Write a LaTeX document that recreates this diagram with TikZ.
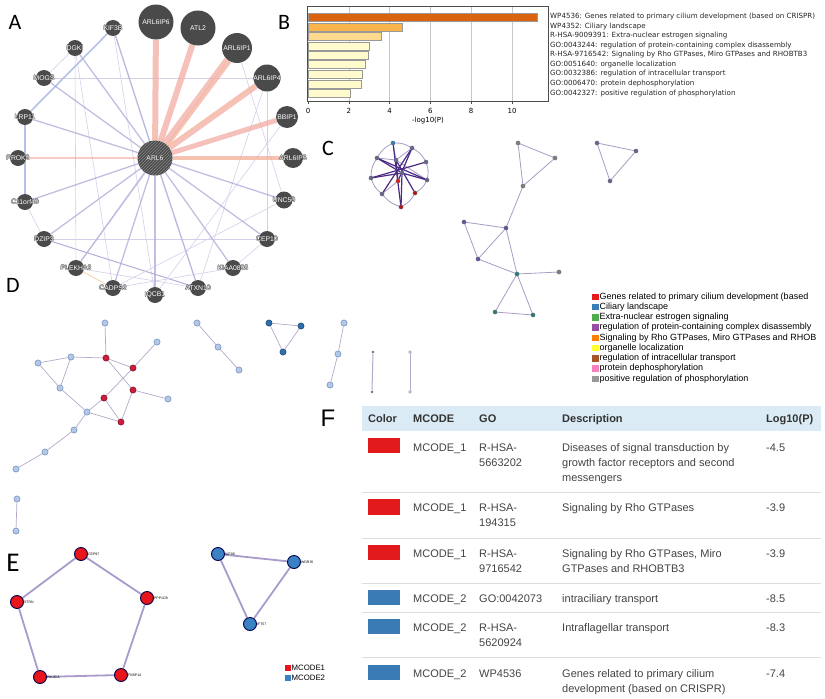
\documentclass[tikz,border=0pt]{standalone}
\usepackage{fontspec}
\setmainfont{Liberation Sans}
\newfontfamily\dejavu{DejaVu Sans}
\newfontfamily\carl{Carlito}
\usetikzlibrary{patterns}
\pgfdeclarelayer{edges}
\pgfsetlayers{edges,main}
\definecolor{ag}{HTML}{4A4A4A}
\definecolor{apk}{HTML}{F3A79E}
\definecolor{aor}{HTML}{F6C58E}
\definecolor{alav}{HTML}{B4AEDA}
\definecolor{alav2}{HTML}{D4D0EA}
\definecolor{ablu}{HTML}{B3C2E6}
\definecolor{bA}{HTML}{DA6310}
\definecolor{bB}{HTML}{FAB44C}
\definecolor{bC}{HTML}{FDD98D}
\definecolor{bD}{HTML}{FFFBCC}
\definecolor{lgRed}{HTML}{E41A1C}
\definecolor{lgBlue}{HTML}{377EB8}
\definecolor{lgGreen}{HTML}{4DAF4A}
\definecolor{lgPurple}{HTML}{984EA3}
\definecolor{lgOrange}{HTML}{FF7F00}
\definecolor{lgYellow}{HTML}{FFFF33}
\definecolor{lgBrown}{HTML}{A65628}
\definecolor{lgPink}{HTML}{F781BF}
\definecolor{lgGrey}{HTML}{999999}
\definecolor{cedge}{HTML}{A89CC6}
\definecolor{cdark}{HTML}{4B2A83}
\definecolor{dedge}{HTML}{B6A9C9}
\definecolor{dlight}{HTML}{B4C7E7}
\definecolor{dlightb}{HTML}{6F8FBF}
\definecolor{dred}{HTML}{D01C3C}
\definecolor{dblue}{HTML}{2F6FB0}
\definecolor{eedge}{HTML}{A99CCC}
\definecolor{ered}{HTML}{E8151B}
\definecolor{eblue}{HTML}{3B82C4}
\definecolor{hdr}{HTML}{DAEBF5}
\definecolor{tred}{HTML}{E31A1C}
\definecolor{tblue}{HTML}{3A7AB5}
\definecolor{ttext}{HTML}{444444}
\definecolor{tsep}{HTML}{DDDDDD}
\newcommand\hlo[1]{\makebox[0pt][c]{\rlap{\color{ag}\kern-.45pt#1}\rlap{\color{ag}\kern.45pt#1}\rlap{\color{ag}\raisebox{.45pt}{#1}}\rlap{\color{ag}\raisebox{-.45pt}{#1}}{\color{white}#1}}}
\begin{document}
\begin{tikzpicture}[x=1pt,y=-1pt,
  lett/.style={inner sep=0pt,font=\carl\fontsize{22}{22}\selectfont},
  an/.style={circle,fill=ag,inner sep=0pt,minimum size=#1,text=white,font=\fontsize{6.8}{7}\selectfont},
  apink/.style={apk,opacity=.7,line width=#1},
  aorg/.style={aor,opacity=.8,line width=.7},
  alv/.style={alav,opacity=.8,line width=1.3},
  ax/.style={alav2,line width=.6},
  bbar/.style={fill=#1,draw=gray!80,line width=.4},
  blab/.style={anchor=west,inner sep=0pt,font=\dejavu\fontsize{7.1}{8}\selectfont,text=black!85},
  btick/.style={inner sep=0pt,font=\dejavu\fontsize{7}{8}\selectfont},
  cn/.style={circle,inner sep=0pt,minimum size=4.2,fill=#1,draw=black!60,line width=.3},
  ce/.style={cedge,line width=.8},
  cd/.style={cdark,line width=1.2},
  lgsq/.style={fill=#1,draw=none,minimum size=6.5,inner sep=0pt},
  lgt/.style={anchor=west,inner sep=0pt,font=\fontsize{9}{10}\selectfont},
  dn/.style={circle,inner sep=0pt,minimum size=6.2,fill=dlight,draw=dlightb,line width=.5},
  dr/.style={circle,inner sep=0pt,minimum size=6.2,fill=dred,draw=dred!60!black,line width=.5},
  db/.style={circle,inner sep=0pt,minimum size=6.2,fill=dblue,draw=dblue!60!black,line width=.5},
  ds/.style={circle,inner sep=0pt,minimum size=2.6,fill=black!55,draw=none},
  de/.style={dedge,line width=.7},
  en/.style={circle,inner sep=0pt,minimum size=13,fill=#1,draw=black!50!blue!60!black,line width=.9},
  ee/.style={eedge,line width=1.8},
  elab/.style={anchor=west,inner sep=0pt,font=\fontsize{3.5}{4}\selectfont},
  elg/.style={anchor=west,inner sep=0pt,font=\fontsize{7.8}{9}\selectfont},
  sw/.style={fill=#1,draw=none},
  th/.style={anchor=base west,inner sep=0pt,font=\bfseries\fontsize{11}{12}\selectfont,text=black!80},
  td/.style={anchor=base west,inner sep=0pt,font=\fontsize{11}{12}\selectfont,text=ttext},
  sep/.style={tsep,line width=.8}
]
\useasboundingbox (0,0) rectangle (825,699);
\begin{pgfonlayer}{edges}\fill[white] (0,0) rectangle (825,699);\end{pgfonlayer}

% ---------- panel letters
\node[lett] (LA) at (15,22) {A};
\node[lett] (LB) at (284,22) {B};
\node[lett] (LC) at (328,148) {C};
\node[lett] (LD) at (13,285) {D};
\node[lett,font=\carl\fontsize{27}{27}\selectfont] (LE) at (13,563) {E};
\node[lett,font=\fontsize{24}{24}\selectfont] (LF) at (328,418) {F};

% ---------- panel A
\node[an=35,postaction={pattern=north east lines,pattern color=white!35!ag}] (ARL6) at (155,158) {\hlo{ARL6}};
\node[an=35] (IP6) at (156,22) {\hlo{ARL6IP6}};
\node[an=35] (ATL2) at (198,28) {\hlo{ATL2}};
\node[an=30] (IP1) at (237,48) {\hlo{ARL6IP1}};
\node[an=27] (IP4) at (267,78) {\hlo{ARL6IP4}};
\node[an=22] (BBIP1) at (287,117) {\hlo{BBIP1}};
\node[an=20] (IP5) at (293,158) {\hlo{ARL6IP5}};
\node[an=17] (UNC50) at (284,200) {\hlo{UNC50}};
\node[an=16] (CEP10) at (267,239) {\hlo{CEP10}};
\node[an=16] (KIAA) at (233,268) {\hlo{KIAA0895}};
\node[an=16] (ATXN10) at (198,288) {\hlo{ATXN10}};
\node[an=16] (IQCB1) at (155,295) {\hlo{IQCB1}};
\node[an=16] (CADPS2) at (113,288) {\hlo{CADPS2}};
\node[an=16] (PLEKHA3) at (76,268) {\hlo{PLEKHA3}};
\node[an=16] (DZIP3) at (44,239) {\hlo{DZIP3}};
\node[an=16] (C11) at (25,202) {\hlo{C11orf49}};
\node[an=16] (PROK2) at (18,158) {\hlo{PROK2}};
\node[an=16] (LRP11) at (25,117) {\hlo{LRP11}};
\node[an=16] (MOGS) at (44,78) {\hlo{MOGS}};
\node[an=16] (DGKI) at (75,48) {\hlo{DGKI}};
\node[an=16] (KIF3B) at (113,28) {\hlo{KIF3B}};

\begin{pgfonlayer}{edges}
 % cross edges
 \draw[ax] (KIF3B) -- (ATXN10);
 \draw[ax] (KIF3B) -- (IQCB1);
 \draw[ax] (DGKI) -- (MOGS);
 \draw[ax] (DGKI) -- (CADPS2);
 \draw[ax] (DGKI) -- (PLEKHA3);
 \draw[ax] (MOGS) -- (IP4);
 \draw[ax] (DZIP3) -- (CEP10);
 \draw[alav,line width=1] (DZIP3) -- (ATXN10);
 \draw[ax] (PLEKHA3) -- (IP1);
 \draw[ax] (PLEKHA3) -- (ATXN10);
 \draw[ax] (CADPS2) -- (KIAA);
 \draw[ax] (IQCB1) -- (BBIP1);
 \draw[ax] (UNC50) -- (IP1);
 \draw[ax] (CEP10) -- (IP4);
 \draw[ax] (KIAA) -- (CEP10);
 \draw[ax] (ATXN10) -- (IP4);
 \draw[ax] (C11) -- (DZIP3);
 \draw[ax] (CADPS2) -- (UNC50);
 \draw[aorg] (PLEKHA3) -- (CADPS2);
 \draw[ablu,line width=1.6] (KIF3B) -- (LRP11);
 \draw[ablu,line width=1.6] (LRP11) -- (C11);
 % ARL6 edges
 \foreach \n in {KIF3B,DGKI,MOGS,LRP11,C11,DZIP3,PLEKHA3,CADPS2,IQCB1,ATXN10,KIAA,CEP10,UNC50}
   \draw[alv] (ARL6) -- (\n);
 \draw[apk,opacity=.6,line width=1.3] (ARL6) -- (PROK2);
 \draw[apink=6] (ARL6) -- (IP6);
 \draw[apink=6] (ARL6) -- (ATL2);
 \draw[apink=8] (ARL6) -- (IP1);
 \draw[apink=6] (ARL6) -- (IP4);
 \draw[apink=5] (ARL6) -- (BBIP1);
 \draw[apink=4] (ARL6) -- (IP5);
 \draw[aorg] (ARL6.north) -- (IP6);
 \draw[aorg] (ARL6.north east) -- (IP1);
 \draw[aorg] (ARL6.east) -- (IP5);
 \draw[aorg] (ARL6.north east) -- (IP4);
\end{pgfonlayer}

% ---------- panel B
\draw[gray!45,line width=.5] (348.8,6) -- (348.8,101) (389.6,6) -- (389.6,101) (430.4,6) -- (430.4,101) (471.2,6) -- (471.2,101) (512,6) -- (512,101);
\fill[bbar=bA] (308,12.7) rectangle (537.3,20.7);
\fill[bbar=bB] (308,22.7) rectangle (401.7,30.7);
\fill[bbar=bC] (308,32) rectangle (381,40);
\fill[bbar=bD] (308,41.7) rectangle (369,49.7);
\fill[bbar=bD] (308,51) rectangle (368.3,59);
\fill[bbar=bD] (308,60.3) rectangle (365.3,68.3);
\fill[bbar=bD] (308,70) rectangle (362.3,78);
\fill[bbar=bD] (308,79.7) rectangle (361,87.7);
\fill[bbar=bD] (308,89.3) rectangle (350,97.3);
\draw[black!70,line width=.6] (307,6) rectangle (548,101);
\foreach \v/\t in {0/0,2/2,4/4,6/6,8/8,10/10}{
  \draw[black!70,line width=.5] (308+20.4*\v,101) -- (308+20.4*\v,104);
  \node[btick] (bt\v) at (308+20.4*\v,110.5) {\t};
}
\node[btick] (bxl) at (428,121) {-log10(P)};
\node[blab] (bl1) at (550,16.7) {WP4536: Genes related to primary cilium development (based on CRISPR)};
\node[blab] (bl2) at (550,26.7) {WP4352: Ciliary landscape};
\node[blab] (bl3) at (550,36) {R-HSA-9009391: Extra-nuclear estrogen signaling};
\node[blab] (bl4) at (550,45.7) {GO:0043244: regulation of protein-containing complex disassembly};
\node[blab] (bl5) at (550,55) {R-HSA-9716542: Signaling by Rho GTPases, Miro GTPases and RHOBTB3};
\node[blab] (bl6) at (550,64.3) {GO:0051640: organelle localization};
\node[blab] (bl7) at (550,74) {GO:0032386: regulation of intracellular transport};
\node[blab] (bl8) at (550,83.7) {GO:0006470: protein dephosphorylation};
\node[blab] (bl9) at (550,93.3) {GO:0042327: positive regulation of phosphorylation};

% ---------- panel C
\node[cn=lgBlue] (c1) at (393,143) {};
\node[cn=black!70!blue!60] (c2) at (412,148) {};
\node[cn=black!70!blue!60] (c3) at (377,158) {};
\node[cn=black!70!blue!60] (c4) at (396,160) {};
\node[cn=black!70!blue!60] (c5) at (426,162) {};
\node[cn=black!70!blue!60] (c6) at (402,173) {};
\node[cn=black!70!blue!60] (c7) at (371,178) {};
\node[cn=black!70!blue!60] (c8) at (427,180) {};
\node[cn=lgRed] (c9) at (398,181) {};
\node[cn=black!70!blue!60] (c10) at (382,194) {};
\node[cn=lgRed!80!black] (c11) at (415,193) {};
\node[cn=lgRed!80!black] (c12) at (401,207) {};
\node[cn=gray] (g1) at (518,143) {};
\node[cn=gray] (g2) at (555,158) {};
\node[cn=gray] (g3) at (523,186) {};
\node[cn=blue!30!gray] (g4) at (506,228) {};
\node[cn=blue!30!gray] (g5) at (464,222) {};
\node[cn=blue!30!gray] (g6) at (478,259) {};
\node[cn=teal!70!gray] (g7) at (517,274) {};
\node[cn=gray] (g8) at (559,272) {};
\node[cn=teal!70!gray] (g9) at (495,312) {};
\node[cn=teal!70!gray] (g10) at (533,315) {};
\node[cn=black!70!blue!60] (t1) at (597,143) {};
\node[cn=black!70!blue!60] (t2) at (636,151) {};
\node[cn=black!70!blue!60] (t3) at (610,181) {};
\begin{pgfonlayer}{edges}
 \draw[ce] (c1) to[bend left=15] (c2);
 \draw[ce] (c2) to[bend left=15] (c5);
 \draw[ce] (c5) to[bend left=15] (c8);
 \draw[ce] (c8) to[bend left=15] (c11);
 \draw[ce] (c11) to[bend left=15] (c12);
 \draw[ce] (c12) to[bend left=15] (c10);
 \draw[ce] (c10) to[bend left=15] (c7);
 \draw[ce] (c7) to[bend left=15] (c3);
 \draw[ce] (c3) to[bend left=15] (c1);
 \draw[ce] (c3) -- (c4) (c4) -- (c2) (c1) -- (c4) (c9) -- (c10) (c4) -- (c8);
 \draw[cd] (c3) -- (c8);
 \draw[cd] (c7) -- (c5);
 \draw[cd] (c1) -- (c12);
 \draw[cd] (c2) -- (c10);
 \draw[cd] (c4) -- (c11);
 \draw[cd] (c6) -- (c3);
 \draw[cd] (c6) -- (c7);
 \draw[cd] (c6) -- (c8);
 \draw[cd] (c6) -- (c12);
 \draw[cd] (c9) -- (c2);
 \draw[cd] (c9) -- (c4);
 \draw[ce] (g1) -- (g2) (g2) -- (g3) (g3) -- (g1) (g3) -- (g4);
 \draw[ce] (g5) -- (g4) (g5) -- (g6) (g4) -- (g6) (g4) -- (g7) (g6) -- (g7);
 \draw[ce] (g7) -- (g8) (g7) -- (g9) (g7) -- (g10) (g9) -- (g10);
 \draw[ce] (t1) -- (t2) (t2) -- (t3) (t3) -- (t1);
\end{pgfonlayer}
% legend C (texts as printed, cut at the panel edge)
\foreach \c/\t [count=\i] in {lgRed/Genes related to primary cilium development (based,
  lgBlue/Ciliary landscape,
  lgGreen/Extra-nuclear estrogen signaling,
  lgPurple/regulation of protein-containing complex disassembly,
  lgOrange/{Signaling by Rho GTPases, Miro GTPases and RHOB},
  lgYellow/organelle localization,
  lgBrown/regulation of intracellular transport,
  lgPink/protein dephosphorylation,
  lgGrey/positive regulation of phosphorylation}{
  \node[lgsq=\c] (lq\i) at (595.5,286.5+10.25*\i) {};
  \node[lgt] (lt\i) at (599.5,286.5+10.25*\i) {\t};
}

% ---------- panel D
\node[dn] (d1) at (105,323) {};
\node[dn] (d2) at (157,342) {};
\node[dn] (d3) at (38,363) {};
\node[dn] (d4) at (71,357) {};
\node[dr] (d5) at (106,358) {};
\node[dr] (d6) at (133,368) {};
\node[dn] (d7) at (60,388) {};
\node[dr] (d8) at (133,390) {};
\node[dn] (d9) at (168,399) {};
\node[dr] (d10) at (104,398) {};
\node[dn] (d11) at (87,412) {};
\node[dr] (d12) at (121,422) {};
\node[dn] (d13) at (74,430) {};
\node[dn] (d14) at (45,452) {};
\node[dn] (d15) at (16,469) {};
\node[dn] (d16) at (17,499) {};
\node[dn] (d17) at (16,531) {};
\node[dn] (d18) at (197,323) {};
\node[dn] (d19) at (218,347) {};
\node[dn] (d20) at (239,370) {};
\node[db] (d21) at (269,323) {};
\node[db] (d22) at (301,326) {};
\node[db] (d23) at (283,352) {};
\node[dn] (d24) at (344,323) {};
\node[dn] (d25) at (338,354) {};
\node[dn] (d26) at (330,385) {};
\node[ds] (d27) at (373,352) {};
\node[ds] (d28) at (372,392) {};
\node[ds,fill=white,draw=black!55,line width=.3] (d29) at (410,352) {};
\node[ds,fill=white,draw=black!55,line width=.3] (d30) at (410,392) {};
\begin{pgfonlayer}{edges}
 \draw[de] (d1) -- (d5) (d3) -- (d4) (d4) -- (d5) (d3) -- (d7) (d4) -- (d7) (d7) -- (d11);
 \draw[de] (d5) -- (d6) (d5) -- (d8) (d6) -- (d2) (d6) -- (d10) (d8) -- (d9) (d8) -- (d12);
 \draw[de] (d10) -- (d11) (d10) -- (d12) (d11) -- (d12) (d11) -- (d13) (d13) -- (d14) (d14) -- (d15) (d16) -- (d17);
 \draw[de] (d18) -- (d19) (d19) -- (d20) (d21) -- (d22) (d22) -- (d23) (d23) -- (d21) (d24) -- (d25) (d25) -- (d26);
 \draw[de,line width=1] (d27) -- (d28);
 \draw[de] (d29) -- (d30);
\end{pgfonlayer}

% ---------- panel E
\node[en=ered] (CEP97) at (81,554) {};
\node[en=ered] (STRN) at (17,602) {};
\node[en=ered] (PPP1CB) at (147,598) {};
\node[en=ered] (PIK3CA) at (40,677) {};
\node[en=ered] (FKBP14) at (121,675) {};
\node[en=eblue] (EKIF) at (218,554) {};
\node[en=eblue] (WDR) at (294,562) {};
\node[en=eblue] (IFT) at (250,624) {};
\begin{pgfonlayer}{edges}
 \draw[ee] (CEP97) -- (PPP1CB) -- (FKBP14) -- (PIK3CA) -- (STRN) -- (CEP97);
 \draw[ee] (EKIF) -- (WDR) -- (IFT) -- (EKIF);
\end{pgfonlayer}
\node[elab] at (CEP97.east) {CEP97};
\node[elab] at (STRN.east) {STRN};
\node[elab] at (PPP1CB.east) {PPP1CB};
\node[elab] at (PIK3CA.east) {PIK3CA};
\node[elab] at (FKBP14.east) {FKBP14};
\node[elab] at (EKIF.east) {KIF3B};
\node[elab] at (WDR.east) {WDR35};
\node[elab] at (IFT.east) {IFT57};
\node[lgsq=ered] (eq1) at (288,668) {};
\node[lgsq=eblue] (eq2) at (288,678) {};
\node[elg] at (291.5,668) {MCODE1};
\node[elg] at (291.5,678) {MCODE2};

% ---------- panel F
\fill[hdr] (362,406) rectangle (821,431);
\node[th] at (368,422.5) {Color};
\node[th] at (413,422.5) {MCODE};
\node[th] at (479,422.5) {GO};
\node[th] at (562,422.5) {Description};
\node[th] at (766,422.5) {Log10(P)};
% row 1
\fill[sw=tred] (368,438) rectangle (400,453);
\node[td] at (413,451) {MCODE\_1};
\node[td] at (479,451) {R-HSA-};
\node[td] at (479,466.3) {5663202};
\node[td] at (562,451) {Diseases of signal transduction by};
\node[td] at (562,466.3) {growth factor receptors and second};
\node[td] at (562,481.6) {messengers};
\node[td] at (766,451) {-4.5};
\draw[sep] (362,492) -- (821,492);
% row 2
\fill[sw=tred] (368,499) rectangle (400,515);
\node[td] at (413,511) {MCODE\_1};
\node[td] at (479,511) {R-HSA-};
\node[td] at (479,526.3) {194315};
\node[td] at (562,511) {Signaling by Rho GTPases};
\node[td] at (766,511) {-3.9};
\draw[sep] (362,538) -- (821,538);
% row 3
\fill[sw=tred] (368,545) rectangle (400,560);
\node[td] at (413,557) {MCODE\_1};
\node[td] at (479,557) {R-HSA-};
\node[td] at (479,572.3) {9716542};
\node[td] at (562,557) {Signaling by Rho GTPases, Miro};
\node[td] at (562,572.3) {GTPases and RHOBTB3};
\node[td] at (766,557) {-3.9};
\draw[sep] (362,583) -- (821,583);
% row 4
\fill[sw=tblue] (368,590) rectangle (400,605);
\node[td] at (413,602) {MCODE\_2};
\node[td] at (479,602) {GO:0042073};
\node[td] at (562,602) {intraciliary transport};
\node[td] at (766,602) {-8.5};
\draw[sep] (362,612) -- (821,612);
% row 5
\fill[sw=tblue] (368,619) rectangle (400,634);
\node[td] at (413,631) {MCODE\_2};
\node[td] at (479,631) {R-HSA-};
\node[td] at (479,646.3) {5620924};
\node[td] at (562,631) {Intraflagellar transport};
\node[td] at (766,631) {-8.3};
\draw[sep] (362,657) -- (821,657);
% row 6
\fill[sw=tblue] (368,665) rectangle (400,680);
\node[td] at (413,677) {MCODE\_2};
\node[td] at (479,677) {WP4536};
\node[td] at (562,677) {Genes related to primary cilium};
\node[td] at (562,692.3) {development (based on CRISPR)};
\node[td] at (766,677) {-7.4};
\end{tikzpicture}
\end{document}
